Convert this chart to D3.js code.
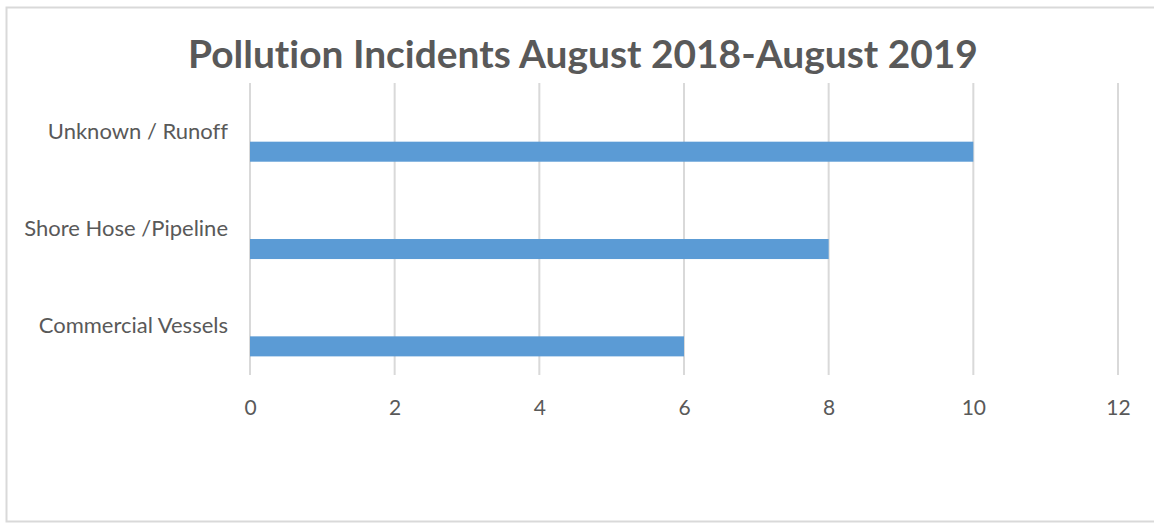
<!DOCTYPE html>
<html>
<head>
<meta charset="utf-8">
<script src="https://cdn.jsdelivr.net/npm/d3@7"></script>
<style>
  html, body { margin: 0; padding: 0; background: #fff; }
  svg { display: block; font-variant-ligatures: none; }
  .grid line { stroke: #d9d9d9; stroke-width: 2; }
  .axis text { font-family: Lato, "Open Sans", sans-serif; fill: #595959; }
</style>
</head>
<body>
<div id="chart"></div>
<script>
var title = "Pollution Incidents August 2018-August 2019";
var categories = ["Unknown / Runoff", "Shore Hose /Pipeline", "Commercial Vessels"];
var values = [10, 8, 6];
// chart had three series slots, only the last one carries data
var seriesSlots = ["s1", "s2", "Incidents"];
var xTicks = [0, 2, 4, 6, 8, 10, 12];

var W = 1154, H = 523;
var margin = { top: 83, right: 36, bottom: 148, left: 250 };
var width = W - margin.left - margin.right,
  height = H - margin.top - margin.bottom;

var svg = d3.select("#chart").append("svg")
  .attr("width", W)
  .attr("height", H);

/* chart border (right edge is cut off in the picture) */
svg.append("rect")
  .attr("x", 6.5).attr("y", 7.5)
  .attr("width", W + 10).attr("height", 514)
  .attr("fill", "#fff")
  .attr("stroke", "#d9d9d9")
  .attr("stroke-width", 2);

/* title, fitted to the width it has in the picture */
var t = svg.append("text")
  .attr("x", 583)
  .attr("y", 68)
  .attr("text-anchor", "middle")
  .attr("font-family", "Lato, 'Open Sans', sans-serif")
  .attr("font-weight", "bold")
  .attr("fill", "#595959")
  .attr("font-size", 36)
  .text(title);
var tw = t.node().getComputedTextLength();
t.attr("font-size", 36 * 790 / tw);

var g = svg.append("g")
  .attr("transform", "translate(" + margin.left + "," + margin.top + ")");

var x = d3.scaleLinear()
  .domain([0, 12])
  .range([0, width]);

var y = d3.scaleBand()
  .domain(categories)
  .range([0, height])
  .paddingInner(0)
  .paddingOuter(0);

// inner slots, gap between clusters is ~187% of a bar
var ySlot = d3.scaleBand()
  .domain(seriesSlots)
  .range([0, y.bandwidth()])
  .paddingInner(0)
  .paddingOuter(0.93);

/* gridlines */
g.append("g")
  .attr("class", "grid")
  .selectAll("line")
  .data(xTicks)
  .enter()
  .append("line")
  .attr("x1", function(d) { return x(d); })
  .attr("x2", function(d) { return x(d); })
  .attr("y1", 0)
  .attr("y2", height);

/* bars */
g.selectAll(".bar")
  .data(values)
  .enter()
  .append("rect")
  .attr("class", "bar")
  .attr("x", x(0))
  .attr("y", function(d, i) { return y(categories[i]) + ySlot("Incidents"); })
  .attr("width", function(d) { return x(d) - x(0); })
  .attr("height", ySlot.bandwidth())
  .attr("fill", "#5b9bd5");

/* x axis labels */
var xAxis = g.append("g")
  .attr("class", "axis")
  .attr("transform", "translate(0," + height + ")")
  .call(d3.axisBottom(x).tickValues(xTicks).tickSize(0));
xAxis.select(".domain").remove();
xAxis.selectAll("text")
  .attr("font-size", 21)
  .attr("y", 40)
  .attr("dy", 0);

/* y axis labels */
var yAxis = g.append("g")
  .attr("class", "axis")
  .attr("transform", "translate(-22,0)")
  .call(d3.axisLeft(y).tickSize(0).tickPadding(0));
yAxis.select(".domain").remove();
yAxis.selectAll("text").attr("font-size", 22);
</script>
</body>
</html>
